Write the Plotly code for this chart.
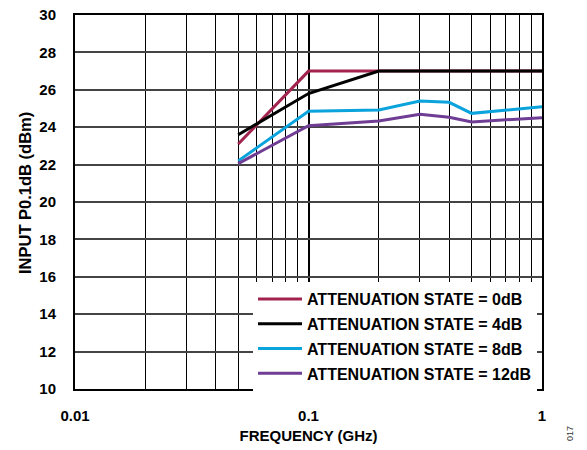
import plotly.graph_objects as go

# Frequency sweep points (GHz)
freq_ghz = [0.05, 0.1, 0.2, 0.3, 0.4, 0.5, 1.0]

# Input P0.1dB (dBm) for each attenuation state
p01_0db = [23.1, 27.0, 27.0, 27.0, 27.0, 27.0, 27.0]
p01_4db = [23.6, 25.8, 27.0, 27.0, 27.0, 27.0, 27.0]
p01_8db = [22.2, 24.85, 24.92, 25.4, 25.33, 24.74, 25.1]
p01_12db = [22.05, 24.08, 24.33, 24.69, 24.53, 24.28, 24.51]

series_names = [
    "ATTENUATION STATE = 0dB",
    "ATTENUATION STATE = 4dB",
    "ATTENUATION STATE = 8dB",
    "ATTENUATION STATE = 12dB",
]
series_values = [p01_0db, p01_4db, p01_8db, p01_12db]
series_colors = ["#A3234F", "#000000", "#0AA3DC", "#6F3D94"]

x_major = [0.01, 0.1, 1]
x_major_text = ["0.01", "0.1", "1"]
x_minor = [m * d for d in (0.01, 0.1) for m in range(2, 10)]
y_ticks = list(range(10, 31, 2))

FONT = "Liberation Sans, Arial, sans-serif"
L, R, T, B = 75, 45, 15, 61
W, H = 587, 450
PW, PH = W - L - R, H - T - B


def px_x(p):
    return (p - L) / PW


def px_y(p):
    return (H - B - p) / PH


fig = go.Figure()
for i, (name, vals, col) in enumerate(zip(series_names, series_values, series_colors)):
    fig.add_trace(go.Scatter(
        x=freq_ghz, y=vals, mode="lines", name=name, legendgroup=f"g{i}",
        line=dict(color=col, width=3),
    ))

fig.update_layout(
    width=W, height=H,
    margin=dict(l=L, r=R, t=T, b=B, autoexpand=False),
    paper_bgcolor="white", plot_bgcolor="white",
    font=dict(family=FONT, size=15, color="black", weight="bold"),
    showlegend=True,
    legend=dict(
        x=px_x(537), y=px_y(391), xanchor="right", yanchor="bottom",
        bgcolor="white", borderwidth=0,
        font=dict(family=FONT, size=16, color="black", weight="bold"),
        tracegroupgap=1, itemwidth=44,
    ),
    annotations=[
        dict(text="INPUT P0.1dB (dBm)", x=px_x(25), y=px_y(193),
             xref="paper", yref="paper", showarrow=False, textangle=-90,
             xanchor="center", yanchor="middle",
             font=dict(family=FONT, size=16.5, color="black", weight="bold")),
        dict(text="017", x=px_x(570), y=px_y(434), xref="paper", yref="paper",
             xanchor="center", yanchor="middle",
             showarrow=False, textangle=-90,
             font=dict(family=FONT, size=9, color="#333", weight="normal")),
    ],
)

fig.update_xaxes(
    type="log", range=[-2, 0], automargin=False,
    tickmode="array", tickvals=x_major, ticktext=x_major_text,
    showgrid=True, gridcolor="black", gridwidth=1.5,
    minor=dict(tickmode="array", tickvals=x_minor, showgrid=True,
               gridcolor="black", gridwidth=1, ticks=""),
    showline=True, linecolor="black", linewidth=2, mirror=True,
    ticks="", ticklabelstandoff=12,
    tickfont=dict(family=FONT, size=15, weight="bold"),
    title=dict(text="FREQUENCY (GHz)", standoff=7,
               font=dict(family=FONT, size=15, weight="bold")),
    zeroline=False,
)
fig.update_yaxes(
    range=[10, 30], tickmode="array", tickvals=y_ticks, automargin=False,
    showgrid=True, gridcolor="#444444", gridwidth=1.5,
    showline=True, linecolor="black", linewidth=2, mirror=True,
    ticks="", ticklabelstandoff=14,
    tickfont=dict(family=FONT, size=15, weight="bold"),
    zeroline=False,
)

fig.write_html("out.html")
